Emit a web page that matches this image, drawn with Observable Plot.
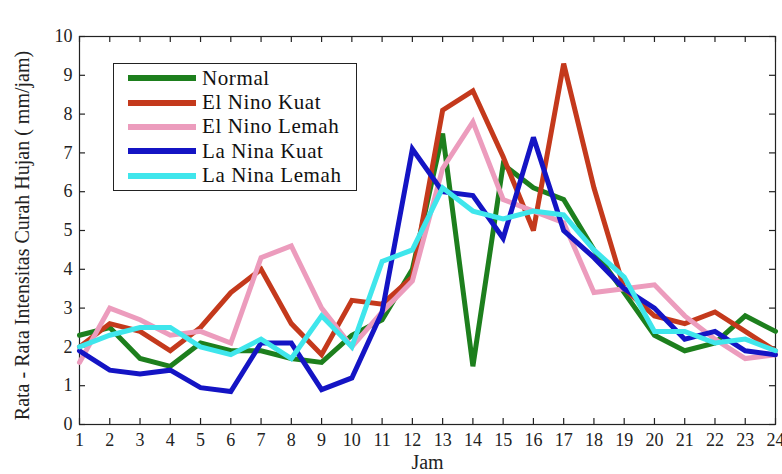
<!DOCTYPE html>
<html>
<head>
<meta charset="utf-8">
<script src="https://cdn.jsdelivr.net/npm/d3@7"></script>
<script src="https://cdn.jsdelivr.net/npm/@observablehq/plot@0.6"></script>
<style>
  html, body { margin: 0; padding: 0; background: #fff; }
  #wrap { position: relative; width: 782px; height: 474px; }
  #legend {
    position: absolute; left: 113px; top: 63px; width: 244px; height: 128px;
    border: 1px solid #222; background: #fff; box-sizing: border-box;
    font-family: "Liberation Serif", "Times New Roman", serif; font-size: 21px; letter-spacing: 0.6px;
    color: #111; padding-top: 2px;
  }
  .item { display: flex; align-items: center; height: 24.4px; }
  .swatch { width: 68px; height: 6px; margin-left: 14px; margin-right: 6px; }
</style>
</head>
<body>
<div id="wrap"></div>
<script>
const hours = [1,2,3,4,5,6,7,8,9,10,11,12,13,14,15,16,17,18,19,20,21,22,23,24];
const yTicks = [0,1,2,3,4,5,6,7,8,9,10];
const seriesNames = ["Normal", "El Nino Kuat", "El Nino Lemah", "La Nina Kuat", "La Nina Lemah"];
const seriesColors = ["#1d7f1d", "#c4391c", "#ec9cbd", "#1414c4", "#3fe6ec"];
const xTitle = "Jam";
const yTitle = "Rata - Rata Intensitas Curah Hujan ( mm/jam)";

const normal       = [2.3,2.5,1.7,1.5,2.1,1.9,1.9,1.7,1.6,2.3,2.7,4.0,7.5,1.5,6.7,6.1,5.8,4.5,3.4,2.3,1.9,2.1,2.8,2.4];
const elNinoKuat   = [2.0,2.6,2.4,1.9,2.5,3.4,4.0,2.6,1.8,3.2,3.1,3.8,8.1,8.6,6.9,5.0,9.3,6.1,3.5,2.8,2.6,2.9,2.4,1.9];
const elNinoLemah  = [1.6,3.0,2.7,2.3,2.4,2.1,4.3,4.6,3.0,2.0,2.9,3.7,6.6,7.8,5.8,5.5,5.2,3.4,3.5,3.6,2.8,2.2,1.7,1.8];
const laNinaKuat   = [1.9,1.4,1.3,1.4,0.95,0.85,2.1,2.1,0.9,1.2,2.9,7.1,6.0,5.9,4.8,7.4,5.0,4.3,3.5,3.0,2.2,2.4,1.9,1.8];
const laNinaLemah  = [2.0,2.3,2.5,2.5,2.0,1.8,2.2,1.7,2.8,2.0,4.2,4.5,6.1,5.5,5.3,5.5,5.4,4.5,3.8,2.4,2.4,2.1,2.2,1.9];

const seriesValues = [normal, elNinoKuat, elNinoLemah, laNinaKuat, laNinaLemah];
const rows = [];
seriesNames.forEach((name, i) => {
  hours.forEach((h, j) => rows.push({series: name, jam: h, value: seriesValues[i][j]}));
});

const W = 782, H = 474;
const mt = 36, mb = 50, ml = 79, mr = 7;
const ph = H - mt - mb, pw = W - ml - mr;
const tk = 6;
const serif = "Liberation Serif, Times New Roman, serif";

const chart = Plot.plot({
  width: W, height: H,
  marginTop: mt, marginBottom: mb, marginLeft: ml, marginRight: mr,
  style: {fontFamily: serif, fontSize: "18px", color: "#222", background: "#fff", overflow: "visible"},
  x: {domain: [1, 24], ticks: hours},
  y: {domain: [0, 10], ticks: yTicks},
  color: {domain: seriesNames, range: seriesColors},
  marks: [
    Plot.frame({stroke: "#222", strokeWidth: 1.2}),
    Plot.tickX(hours, {x: d => d, insetTop: ph - tk, stroke: "#222", strokeWidth: 1.2}),
    Plot.tickX(hours, {x: d => d, insetBottom: ph - tk, stroke: "#222", strokeWidth: 1.2}),
    Plot.tickY(yTicks, {y: d => d, insetRight: pw - tk, stroke: "#222", strokeWidth: 1.2}),
    Plot.tickY(yTicks, {y: d => d, insetLeft: pw - tk, stroke: "#222", strokeWidth: 1.2}),
    Plot.axisX({ticks: hours, tickSize: 0, tickPadding: 9, fontSize: 18, label: null, style: {letterSpacing: "0.8px"}}),
    Plot.axisY({ticks: yTicks, tickSize: 0, tickPadding: 7, fontSize: 18, label: null}),
    Plot.text([xTitle], {frameAnchor: "bottom", lineAnchor: "middle", textAnchor: "middle", dy: 38, fontSize: 20, fill: "#222"}),
    Plot.text([yTitle], {frameAnchor: "left", textAnchor: "middle", lineAnchor: "middle", rotate: -90, dx: -57, dy: 5, fontSize: 20, fill: "#222", letterSpacing: "0.6px"}),
    Plot.line(rows, {x: "jam", y: "value", z: "series", stroke: "series", strokeWidth: 5, strokeLinejoin: "miter", strokeMiterlimit: 3})
  ]
});

const wrap = document.getElementById("wrap");
wrap.appendChild(chart);

const legend = document.createElement("div");
legend.id = "legend";
seriesNames.forEach((name, i) => {
  const item = document.createElement("div");
  item.className = "item";
  const sw = document.createElement("div");
  sw.className = "swatch";
  sw.style.background = seriesColors[i];
  const label = document.createElement("span");
  label.textContent = name;
  item.appendChild(sw);
  item.appendChild(label);
  legend.appendChild(item);
});
wrap.appendChild(legend);
</script>
</body>
</html>
